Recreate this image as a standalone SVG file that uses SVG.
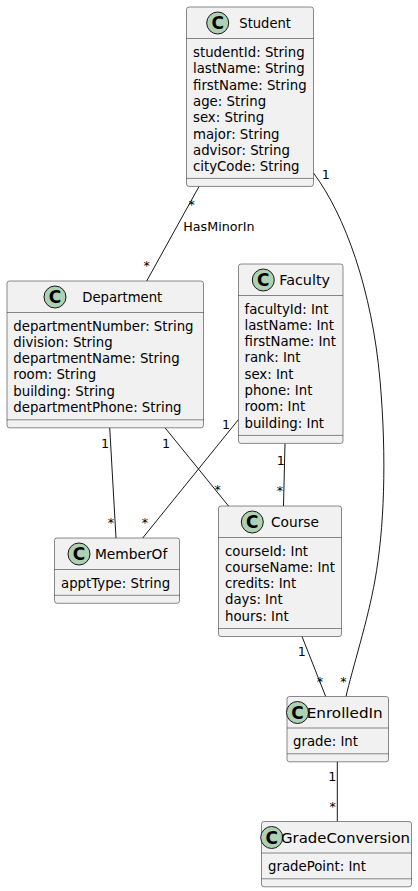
<svg xmlns="http://www.w3.org/2000/svg" width="418" height="891" viewBox="0 0 418 891">
<style>
.box{fill:#F1F1F1;stroke:#181818;stroke-width:0.5}
.sep{stroke:#181818;stroke-width:0.5}
.ci{fill:#ADD1B2;stroke:#181818;stroke-width:1}
.cl{font-family:"DejaVu Sans",sans-serif;font-size:17px;font-weight:bold;fill:#000;text-anchor:middle}
.ti{font-family:"DejaVu Sans",sans-serif;font-size:14px;fill:#000}
.at{font-family:"DejaVu Sans",sans-serif;font-size:13.3px;fill:#000}
.lb{font-family:"DejaVu Sans",sans-serif;font-size:12.7px;fill:#000}
.m{font-family:"DejaVu Sans",sans-serif;font-size:12.7px;fill:#000;text-anchor:middle}
.ln{fill:none;stroke:#181818;stroke-width:1}
</style>
<rect width="418" height="891" fill="#FFFFFF"/>
<g id="connectors">
<path class="ln" d="M199,186.5 L146.7,281"/>
<path class="ln" d="M313.5,173 C345,215 372,290 380,380 C387,460 384,530 375,580 C368,620 352,670 346,696.5"/>
<path class="ln" d="M109.7,427.5 L116,538"/>
<path class="ln" d="M164.8,427.5 L228.5,506"/>
<path class="ln" d="M238.5,419.5 L142.7,538"/>
<path class="ln" d="M285,443.5 L283.5,506"/>
<path class="ln" d="M302,636.5 L325.7,696.5"/>
<path class="ln" d="M337.3,761.8 L337.3,821.5"/>
<text class="m" x="191.7" y="209">*</text>
<text class="m" x="146.7" y="270">*</text>
<text class="lb" x="183.3" y="230.7">HasMinorIn</text>
<text class="m" x="325.7" y="178.6">1</text>
<text class="m" x="343.3" y="685.7">*</text>
<text class="m" x="105" y="448">1</text>
<text class="m" x="111" y="527.4">*</text>
<text class="m" x="166" y="448">1</text>
<text class="m" x="217.7" y="494">*</text>
<text class="m" x="226" y="428.6">1</text>
<text class="m" x="145" y="527.4">*</text>
<text class="m" x="280.7" y="465.3">1</text>
<text class="m" x="280" y="495">*</text>
<text class="m" x="301.7" y="656.3">1</text>
<text class="m" x="320" y="685.7">*</text>
<text class="m" x="332.3" y="781.3">1</text>
<text class="m" x="332.7" y="810.7">*</text>
</g>
<g id="Student">
<rect class="box" x="186.5" y="7" width="127" height="179.4" rx="2.5"/>
<line class="sep" x1="186.5" y1="38.5" x2="313.5" y2="38.5"/>
<line class="sep" x1="186.5" y1="178.4" x2="313.5" y2="178.4"/>
<circle class="ci" cx="217.7" cy="23" r="11"/>
<text class="cl" x="217.7" y="29.2">C</text>
<text class="ti" x="239.3" y="28" textLength="51.7" lengthAdjust="spacingAndGlyphs">Student</text>
<text class="at" x="193" y="57">studentId: String</text>
<text class="at" x="193" y="73.3">lastName: String</text>
<text class="at" x="193" y="89.6">firstName: String</text>
<text class="at" x="193" y="105.9">age: String</text>
<text class="at" x="193" y="122.2">sex: String</text>
<text class="at" x="193" y="138.5">major: String</text>
<text class="at" x="193" y="154.8">advisor: String</text>
<text class="at" x="193" y="171.1">cityCode: String</text>
</g>
<g id="Department">
<rect class="box" x="7" y="281" width="196.5" height="146.8" rx="2.5"/>
<line class="sep" x1="7" y1="312.5" x2="203.5" y2="312.5"/>
<line class="sep" x1="7" y1="419.8" x2="203.5" y2="419.8"/>
<circle class="ci" cx="55" cy="297" r="11"/>
<text class="cl" x="55" y="303.2">C</text>
<text class="ti" x="82.3" y="302" textLength="80" lengthAdjust="spacingAndGlyphs">Department</text>
<text class="at" x="13.3" y="330.5">departmentNumber: String</text>
<text class="at" x="13.3" y="346.8">division: String</text>
<text class="at" x="13.3" y="363.1">departmentName: String</text>
<text class="at" x="13.3" y="379.4">room: String</text>
<text class="at" x="13.3" y="395.7">building: String</text>
<text class="at" x="13.3" y="412">departmentPhone: String</text>
</g>
<g id="Faculty">
<rect class="box" x="238.5" y="264" width="104.5" height="179.4" rx="2.5"/>
<line class="sep" x1="238.5" y1="295.5" x2="343" y2="295.5"/>
<line class="sep" x1="238.5" y1="435.4" x2="343" y2="435.4"/>
<circle class="ci" cx="263.3" cy="280" r="11"/>
<text class="cl" x="263.3" y="286.2">C</text>
<text class="ti" x="279.3" y="285" textLength="50.7" lengthAdjust="spacingAndGlyphs">Faculty</text>
<text class="at" x="244.5" y="313.5">facultyId: Int</text>
<text class="at" x="244.5" y="329.8">lastName: Int</text>
<text class="at" x="244.5" y="346.1">firstName: Int</text>
<text class="at" x="244.5" y="362.4">rank: Int</text>
<text class="at" x="244.5" y="378.7">sex: Int</text>
<text class="at" x="244.5" y="395">phone: Int</text>
<text class="at" x="244.5" y="411.3">room: Int</text>
<text class="at" x="244.5" y="427.6">building: Int</text>
</g>
<g id="MemberOf">
<rect class="box" x="54.5" y="538" width="125" height="65.3" rx="2.5"/>
<line class="sep" x1="54.5" y1="569.5" x2="179.5" y2="569.5"/>
<line class="sep" x1="54.5" y1="595.3" x2="179.5" y2="595.3"/>
<circle class="ci" cx="79" cy="554" r="11"/>
<text class="cl" x="79" y="560.2">C</text>
<text class="ti" x="95" y="559" textLength="72.3" lengthAdjust="spacingAndGlyphs">MemberOf</text>
<text class="at" x="61" y="587.5">apptType: String</text>
</g>
<g id="Course">
<rect class="box" x="218.5" y="506" width="123" height="130.5" rx="2.5"/>
<line class="sep" x1="218.5" y1="537.5" x2="341.5" y2="537.5"/>
<line class="sep" x1="218.5" y1="628.5" x2="341.5" y2="628.5"/>
<circle class="ci" cx="252.3" cy="522" r="11"/>
<text class="cl" x="252.3" y="528.2">C</text>
<text class="ti" x="271" y="527" textLength="48" lengthAdjust="spacingAndGlyphs">Course</text>
<text class="at" x="225" y="555.5">courseId: Int</text>
<text class="at" x="225" y="571.8">courseName: Int</text>
<text class="at" x="225" y="588.1">credits: Int</text>
<text class="at" x="225" y="604.4">days: Int</text>
<text class="at" x="225" y="620.7">hours: Int</text>
</g>
<g id="EnrolledIn">
<rect class="box" x="287" y="696.5" width="101.5" height="65.3" rx="2.5"/>
<line class="sep" x1="287" y1="728" x2="388.5" y2="728"/>
<line class="sep" x1="287" y1="753.8" x2="388.5" y2="753.8"/>
<circle class="ci" cx="297.5" cy="712.5" r="11"/>
<text class="cl" x="297.5" y="718.7">C</text>
<text class="ti" x="306.7" y="717.5" textLength="76" lengthAdjust="spacingAndGlyphs">EnrolledIn</text>
<text class="at" x="293" y="746">grade: Int</text>
</g>
<g id="GradeConversion">
<rect class="box" x="261.5" y="821.5" width="150" height="65.3" rx="2.5"/>
<line class="sep" x1="261.5" y1="853" x2="411.5" y2="853"/>
<line class="sep" x1="261.5" y1="878.8" x2="411.5" y2="878.8"/>
<circle class="ci" cx="271.7" cy="837.5" r="11"/>
<text class="cl" x="271.7" y="843.7">C</text>
<text class="ti" x="281" y="842.5" textLength="129" lengthAdjust="spacingAndGlyphs">GradeConversion</text>
<text class="at" x="268" y="871">gradePoint: Int</text>
</g>
</svg>
